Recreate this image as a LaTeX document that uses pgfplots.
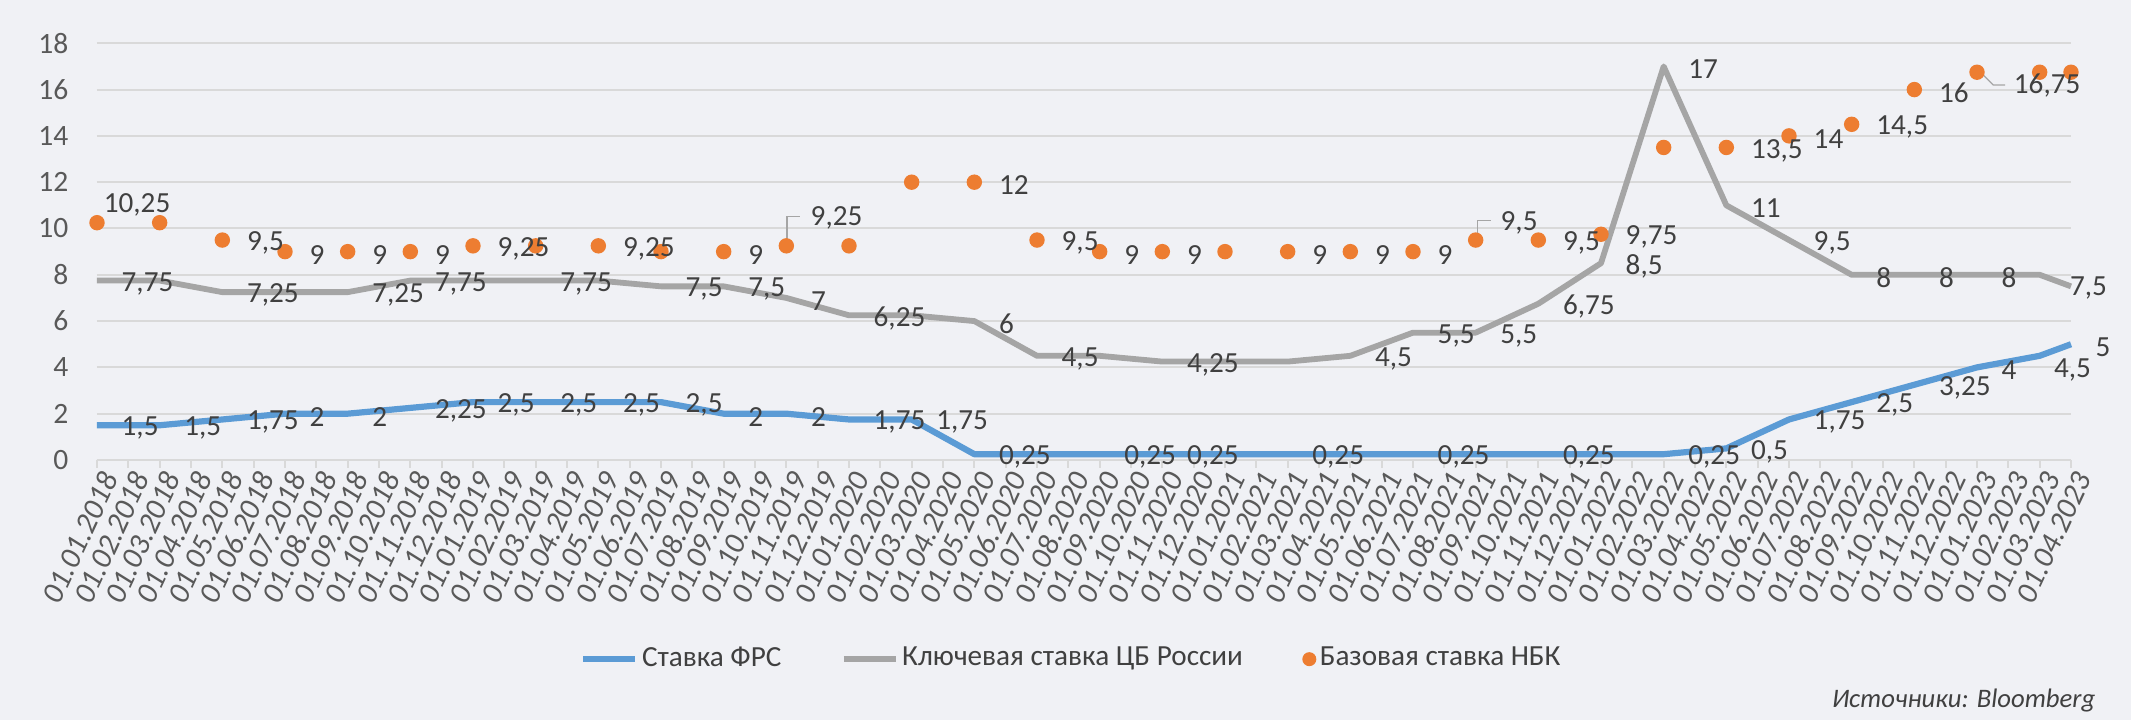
\documentclass[border=0pt]{standalone}
\usepackage{fontspec}
\setmainfont{Carlito}
\usepackage{pgfplots}
\usepackage{pgfplotstable}
\pgfplotsset{compat=1.18}
\definecolor{bgc}{RGB}{240,241,245}
\definecolor{frs}{RGB}{91,155,213}
\definecolor{cbr}{RGB}{165,165,165}
\definecolor{nbk}{RGB}{237,125,49}
\definecolor{gridc}{RGB}{217,217,217}
\definecolor{lblc}{RGB}{64,64,64}
\definecolor{tickc}{RGB}{89,89,89}
\newcommand{\lblfont}{\fontsize{8.3}{9.5}\selectfont}
\pgfplotsset{
  lineleg/.style={legend image code/.code={\draw[##1] (0mm,0mm) -- (5.2mm,0mm);}},
  dotleg/.style={legend image code/.code={\fill[nbk, draw=none] (1.3mm,0mm) circle (0.7mm);}},
  lbls/.style={forget plot, draw=none, mark=none, nodes near coords, point meta=explicit symbolic,
    nodes near coords style={anchor=west, inner sep=0pt, xshift=2.4mm, yshift=-0.3mm, font=\lblfont, text=lblc}},
}

\pgfplotstableread{
x frs cbr nbk
0 1.5 7.75 10.25
2 1.5 7.75 10.25
4 1.75 7.25 9.5
6 2 7.25 9
8 2 7.25 9
10 2.25 7.75 9
12 2.5 7.75 9.25
14 2.5 7.75 9.25
16 2.5 7.75 9.25
18 2.5 7.5 9
20 2 7.5 9
22 2 7 9.25
24 1.75 6.25 9.25
26 1.75 6.25 12
28 0.25 6 12
30 0.25 4.5 9.5
32 0.25 4.5 9
34 0.25 4.25 9
36 0.25 4.25 9
38 0.25 4.25 9
40 0.25 4.5 9
42 0.25 5.5 9
44 0.25 5.5 9.5
46 0.25 6.75 9.5
48 0.25 8.5 9.75
50 0.25 17 13.5
52 0.5 11 13.5
54 1.75 9.5 14
56 2.5 8 14.5
58 3.25 8 16
60 4 8 16.75
62 4.5 8 16.75
63 5 7.5 16.75
}\rates

\pgfplotstableread{
x y lbl
0 1.5 1,5
2 1.5 1,5
4 1.75 1,75
6 2 2
8 2 2
10 2.25 2,25
12 2.5 2,5
14 2.5 2,5
16 2.5 2,5
18 2.5 2,5
20 2 2
22 2 2
24 1.75 1,75
26 1.75 1,75
28 0.25 0,25
32 0.25 0,25
34 0.25 0,25
38 0.25 0,25
42 0.25 0,25
46 0.25 0,25
50 0.25 0,25
52 0.5 0,5
54 1.75 1,75
56 2.5 2,5
58 3.25 3,25
60 4 4
61.67 4.02 4,5
63 5 5
}\frslbl

\pgfplotstableread{
x y lbl
0 7.75 7,75
4 7.25 7,25
8 7.25 7,25
10 7.75 7,75
14 7.75 7,75
18 7.5 7,5
20 7.5 7,5
22 7 7
24 6.25 6,25
28 6 6
30 4.5 4,5
34 4.25 4,25
40 4.5 4,5
42 5.5 5,5
44 5.5 5,5
46 6.75 6,75
48 8.5 8,5
50 17 17
52 11 11
54 9.5 9,5
56 8 8
58 8 8
60 8 8
62.18 7.55 7,5
}\cbrlbl

\pgfplotstableread{
x y lbl
-0.57 11.14 10,25
4 9.5 9,5
6 9 9
8 9 9
10 9 9
12 9.25 9,25
16 9.25 9,25
20 9 9
21.99 10.57 9,25
28 12 12
30 9.5 9,5
32 9 9
34 9 9
38 9 9
40 9 9
42 9 9
44.01 10.38 9,5
46 9.5 9,5
48 9.75 9,75
52 13.5 13,5
54 14 14
56 14.5 14,5
58 16 16
60.39 16.29 16,75
}\nbklbl

\begin{document}
\begin{tikzpicture}
\fill[bgc] (0,0) rectangle (21.31cm,7.2cm);
\useasboundingbox (0,0) rectangle (21.31cm,7.2cm);
\begin{axis}[
  at={(0.97cm,2.6cm)}, anchor=south west,
  scale only axis, width=19.74cm, height=4.167cm,
  xmin=0, xmax=63, ymin=0, ymax=18,
  clip=false,
  axis lines*=left,
  y axis line style={draw=none},
  x axis line style={gridc, line width=0.25mm},
  ytick={0,2,...,18},
  ytick style={draw=none},
  ymajorgrids, grid style={gridc, line width=0.2mm},
  xtick={0,...,63},
  xticklabels={01.01.2018,01.02.2018,01.03.2018,01.04.2018,01.05.2018,01.06.2018,01.07.2018,01.08.2018,01.09.2018,01.10.2018,01.11.2018,01.12.2018,
  01.01.2019,01.02.2019,01.03.2019,01.04.2019,01.05.2019,01.06.2019,01.07.2019,01.08.2019,01.09.2019,01.10.2019,01.11.2019,01.12.2019,
  01.01.2020,01.02.2020,01.03.2020,01.04.2020,01.05.2020,01.06.2020,01.07.2020,01.08.2020,01.09.2020,01.10.2020,01.11.2020,01.12.2020,
  01.01.2021,01.02.2021,01.03.2021,01.04.2021,01.05.2021,01.06.2021,01.07.2021,01.08.2021,01.09.2021,01.10.2021,01.11.2021,01.12.2021,
  01.01.2022,01.02.2022,01.03.2022,01.04.2022,01.05.2022,01.06.2022,01.07.2022,01.08.2022,01.09.2022,01.10.2022,01.11.2022,01.12.2022,
  01.01.2023,01.02.2023,01.03.2023,01.04.2023},
  tick align=outside,
  major tick length=0.8mm,
  xtick style={gridc, line width=0.2mm},
  xticklabel style={rotate=65, anchor=east, inner sep=0pt, yshift=-1.4mm, font=\fontsize{8.7}{9}\selectfont\itshape, text=tickc},
  yticklabel style={inner sep=0pt, xshift=-2.0mm, font=\fontsize{8.4}{9}\selectfont, text=tickc},
  /pgf/number format/assume math mode=true,
  legend style={at={(0.494,-0.478)}, anchor=center, draw=none, fill=none,
    font=\fontsize{8.3}{9.5}\selectfont, text=lblc,
    nodes={inner sep=0.35mm},
    /tikz/every even column/.append style={column sep=5.6mm}},
  legend columns=3,
  legend cell align=left,
]
\addplot[frs, line width=0.62mm, line join=round, lineleg] table[x=x,y=frs]{\rates};
\addlegendentry{Ставка ФРС}
\addplot[cbr, line width=0.58mm, line join=round, lineleg] table[x=x,y=cbr]{\rates};
\addlegendentry{Ключевая ставка ЦБ России}
\addplot[forget plot, cbr, line width=0.35pt] coordinates {(22.02,9.29) (22.02,10.51) (22.44,10.51)};
\addplot[forget plot, cbr, line width=0.35pt] coordinates {(44.05,9.72) (44.05,10.34) (44.49,10.34)};
\addplot[forget plot, cbr, line width=0.35pt] coordinates {(60.2,16.63) (60.52,16.2) (60.9,16.2)};
\addplot[only marks, mark=*, mark size=0.7mm, mark options={draw=none, fill=nbk}, nbk, dotleg] table[x=x,y=nbk]{\rates};
\addlegendentry{Базовая ставка НБК}
\addplot[lbls] table[x=x,y=y,meta=lbl]{\frslbl};
\addplot[lbls] table[x=x,y=y,meta=lbl]{\cbrlbl};
\addplot[lbls] table[x=x,y=y,meta=lbl]{\nbklbl};
\end{axis}
\node[anchor=base east, inner sep=0pt, font=\fontsize{7.6}{10}\selectfont\itshape, text=lblc] at (20.96cm,0.12cm) {Источники: Bloomberg};
\end{tikzpicture}
\end{document}
